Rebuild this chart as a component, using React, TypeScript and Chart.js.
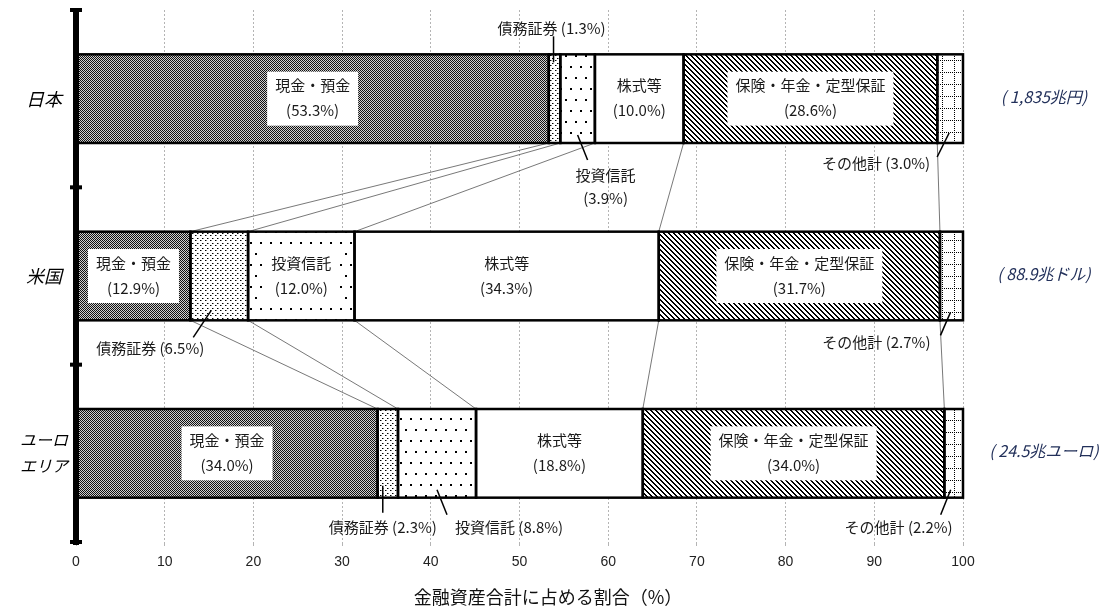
import React, { useEffect, useRef } from 'react';
import { Chart, registerables } from 'chart.js';
Chart.register(...registerables);

// ---- data ----
const categories: (string | string[])[] = ['日本', '米国', ['ユーロ', 'エリア']];
const seriesNames = ['現金・預金', '債務証券', '投資信託', '株式等', '保険・年金・定型保証', 'その他計'];
const cash = [53.3, 12.9, 34.0];
const bonds = [1.3, 6.5, 2.3];
const trusts = [3.9, 12.0, 8.8];
const stocks = [10.0, 34.3, 18.8];
const insurance = [28.6, 31.7, 34.0];
const others = [3.0, 2.7, 2.2];
const totals = ['( 1,835兆円)', '( 88.9兆ドル)', '( 24.5兆ユーロ)'];
const xTitle = '金融資産合計に占める割合（%）';
const seriesValues = [cash, bonds, trusts, stocks, insurance, others];

const JP = '"Noto Sans CJK JP", "Noto Sans", sans-serif';

function makeTile(w: number, h: number, draw: (g: CanvasRenderingContext2D) => void) {
  const c = document.createElement('canvas');
  c.width = w;
  c.height = h;
  const g = c.getContext('2d')!;
  g.fillStyle = '#fff';
  g.fillRect(0, 0, w, h);
  g.fillStyle = '#000';
  draw(g);
  return c;
}

function makePatterns(ctx: CanvasRenderingContext2D) {
  const cashT = makeTile(2, 2, (g) => {
    g.fillStyle = '#cfcfcf';
    g.fillRect(0, 0, 2, 2);
    g.fillStyle = '#111';
    g.fillRect(0, 0, 1, 1);
    g.fillRect(1, 1, 1, 1);
  });
  const bondT = makeTile(5, 5, (g) => {
    g.fillRect(0, 0, 1, 1);
    g.fillRect(2, 3, 1, 1);
    g.fillStyle = '#888';
    g.fillRect(1, 0, 1, 1);
    g.fillRect(3, 3, 1, 1);
  });
  const trustT = makeTile(10, 22, (g) => {
    g.fillRect(0, 0, 2, 2);
    g.fillRect(5, 11, 2, 2);
  });
  const stockT = makeTile(2, 2, () => {});
  const insT = makeTile(5, 5, (g) => {
    for (let i = 0; i < 5; i++) {
      g.fillRect(i, i, 1, 1);
      g.fillRect((i + 1) % 5, i, 1, 1);
    }
  });
  const othT = makeTile(12, 12, (g) => {
    for (let y = 0; y < 12; y += 2) g.fillRect(6, y, 1, 1);
    for (let x = 0; x < 12; x += 2) g.fillRect(x, 0, 1, 1);
  });
  return [cashT, bondT, trustT, stockT, insT, othT].map((t) => ctx.createPattern(t, 'repeat')!);
}

// inside labels: [datasetIndex, categoryIndex, whiteBox]
const insideLabels: [number, number, boolean][] = [
  [0, 0, true], [0, 1, true], [0, 2, true],
  [3, 0, false], [3, 1, false], [3, 2, false],
  [4, 0, true], [4, 1, true], [4, 2, true],
  [2, 1, true],
];

type Callout = {
  ds: number; i: number;
  line: [number, number, number, number]; // offsets: x from cx, y from top/bottom
  from: 'top' | 'bottom';
  tx: number; ty: number; align: CanvasTextAlign; twoLine?: boolean;
};
const callouts: Callout[] = [
  { ds: 1, i: 0, from: 'top', line: [-1, -18, -1, 8], tx: -3, ty: -26, align: 'center' },
  { ds: 2, i: 0, from: 'bottom', line: [0, -8, 10, 17], tx: 28, ty: 32, align: 'center', twoLine: true },
  { ds: 5, i: 0, from: 'bottom', line: [-1, -10, -13, 14], tx: -20, ty: 20, align: 'right' },
  { ds: 1, i: 1, from: 'bottom', line: [-8, -10, -26, 17], tx: -69, ty: 28, align: 'center' },
  { ds: 5, i: 1, from: 'bottom', line: [-1, -8, -11, 15], tx: -21, ty: 22, align: 'right' },
  { ds: 1, i: 2, from: 'bottom', line: [-5, -12, -5, 15], tx: -5, ty: 30, align: 'center' },
  { ds: 2, i: 2, from: 'bottom', line: [0, -8, 10, 17], tx: 18, ty: 30, align: 'left' },
  { ds: 5, i: 2, from: 'bottom', line: [-3, -8, -13, 17], tx: -1, ty: 30, align: 'right' },
];

function seg(chart: any, ds: number, i: number) {
  const el: any = chart.getDatasetMeta(ds).data[i];
  const a = chart.chartArea;
  const l = Math.min(el.x, el.base);
  const r = Math.min(Math.max(el.x, el.base), a.right);
  const h = el.height;
  return { l, r, t: el.y - h / 2, b: el.y + h / 2, cx: (l + r) / 2, cy: el.y };
}

const fmt = (v: number) => `(${v.toFixed(1)}%)`;

const overlay = {
  id: 'overlay',
  beforeDatasetsDraw(chart: any) {
    const ctx: CanvasRenderingContext2D = chart.ctx;
    ctx.save();
    ctx.strokeStyle = '#555';
    ctx.lineWidth = 0.8;
    for (let i = 0; i < categories.length - 1; i++) {
      for (let ds = 0; ds < 5; ds++) {
        const a = seg(chart, ds, i);
        const b = seg(chart, ds, i + 1);
        ctx.beginPath();
        ctx.moveTo(a.r, a.b);
        ctx.lineTo(b.r, b.t);
        ctx.stroke();
      }
    }
    ctx.restore();
  },
  afterDatasetsDraw(chart: any) {
    const ctx: CanvasRenderingContext2D = chart.ctx;
    const area = chart.chartArea;
    ctx.save();
    // segment borders
    ctx.strokeStyle = '#000';
    ctx.lineWidth = 2.5;
    for (let ds = 0; ds < seriesValues.length; ds++) {
      for (let i = 0; i < categories.length; i++) {
        const s = seg(chart, ds, i);
        ctx.strokeRect(s.l, s.t, s.r - s.l, s.b - s.t);
      }
    }
    // inside labels
    ctx.font = `15px ${JP}`;
    ctx.textAlign = 'center';
    ctx.textBaseline = 'middle';
    for (const [ds, i, box] of insideLabels) {
      const s = seg(chart, ds, i);
      const l1 = seriesNames[ds];
      const l2 = fmt(seriesValues[ds][i]);
      if (box) {
        const w = Math.max(ctx.measureText(l1).width, ctx.measureText(l2).width) + 16;
        ctx.fillStyle = '#fff';
        ctx.fillRect(s.cx - w / 2, s.cy - 27, w, 54);
      }
      ctx.fillStyle = '#1a1a1a';
      ctx.fillText(l1, s.cx, s.cy - 13);
      ctx.fillText(l2, s.cx, s.cy + 12);
    }
    // callouts
    for (const c of callouts) {
      const s = seg(chart, c.ds, c.i);
      const yb = c.from === 'top' ? s.t : s.b;
      ctx.strokeStyle = '#000';
      ctx.lineWidth = 1.5;
      ctx.beginPath();
      ctx.moveTo(s.cx + c.line[0], yb + c.line[1]);
      ctx.lineTo(s.cx + c.line[2], yb + c.line[3]);
      ctx.stroke();
      ctx.fillStyle = '#1a1a1a';
      ctx.textAlign = c.align;
      const v = seriesValues[c.ds][c.i];
      if (c.twoLine) {
        ctx.fillText(seriesNames[c.ds], s.cx + c.tx, yb + c.ty);
        ctx.fillText(fmt(v), s.cx + c.tx, yb + c.ty + 23);
      } else {
        ctx.fillText(`${seriesNames[c.ds]} ${fmt(v)}`, s.cx + c.tx, yb + c.ty);
      }
    }
    // y axis
    ctx.fillStyle = '#000';
    ctx.fillRect(area.left - 3, area.top - 2, 6, area.bottom - area.top + 5);
    const band = (area.bottom - area.top) / categories.length;
    for (let k = 0; k <= categories.length; k++) {
      const y = area.top + k * band;
      ctx.fillRect(area.left - 6, y - 2, 12, 4);
    }
    // category labels & totals
    for (let i = 0; i < categories.length; i++) {
      const s = seg(chart, 0, i);
      const lab = categories[i];
      ctx.fillStyle = '#000';
      ctx.textAlign = 'center';
      if (Array.isArray(lab)) {
        ctx.font = `italic 16px ${JP}`;
        ctx.fillText(lab[0], 44, s.cy - 13);
        ctx.fillText(lab[1], 44, s.cy + 13);
      } else {
        ctx.font = `italic 18px ${JP}`;
        ctx.fillText(lab, 44, s.cy);
      }
      ctx.font = `italic 16px ${JP}`;
      ctx.fillStyle = '#22305a';
      ctx.fillText(totals[i], 1044, s.cy - 2);
    }
    // x title
    ctx.font = `18px ${JP}`;
    ctx.fillStyle = '#111';
    ctx.textAlign = 'center';
    ctx.fillText(xTitle, 548, 597);
    ctx.restore();
  },
};

export default function App() {
  const ref = useRef<HTMLCanvasElement>(null);
  useEffect(() => {
    const canvas = ref.current!;
    const pats = makePatterns(canvas.getContext('2d')!);
    const chart = new Chart(canvas, {
      type: 'bar',
      data: {
        labels: categories.map((c) => (Array.isArray(c) ? c.join('') : c)),
        datasets: seriesValues.map((vals, k) => ({
          label: seriesNames[k],
          data: vals,
          backgroundColor: pats[k] as any,
          borderWidth: 0,
          barPercentage: 0.5,
          categoryPercentage: 1,
        })),
      },
      options: {
        indexAxis: 'y',
        responsive: false,
        animation: false,
        devicePixelRatio: 1,
        layout: { padding: { left: 76, top: 10, right: 142, bottom: 0 } },
        plugins: { legend: { display: false }, tooltip: { enabled: false } },
        scales: {
          x: {
            stacked: true,
            min: 0,
            max: 100,
            ticks: { stepSize: 10, padding: 8, color: '#222', font: { size: 14, family: '"Liberation Sans Narrow", "Liberation Sans", sans-serif' } },
            grid: { color: '#b4b4b4', tickLength: 4, lineWidth: 1 },
            border: { display: false, dash: [2, 2] },
            afterFit: (s: any) => { s.height = 67; },
          },
          y: { stacked: true, display: false },
        },
      },
      plugins: [overlay],
    } as any);
    return () => chart.destroy();
  }, []);
  return (
    <div style={{ position: 'fixed', left: 0, top: 0, width: 1105, height: 609, background: '#fff' }}>
      <canvas ref={ref} width={1105} height={609} style={{ display: 'block' }} />
    </div>
  );
}
